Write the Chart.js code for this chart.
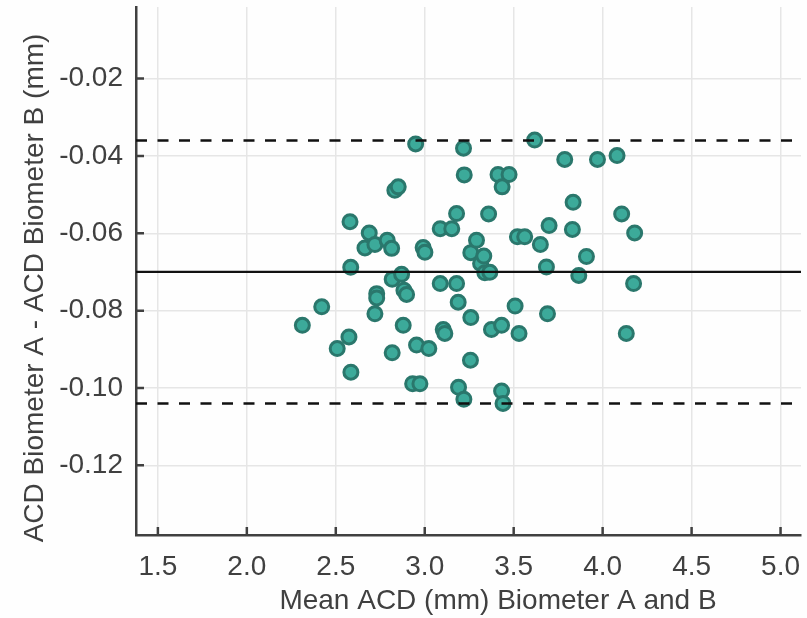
<!DOCTYPE html>
<html>
<head>
<meta charset="utf-8">
<script src="https://cdn.jsdelivr.net/npm/chart.js@4/dist/chart.umd.min.js"></script>
<style>
  html, body { margin: 0; padding: 0; background: #fefefe; }
  #wrap { width: 807px; height: 618px; }
</style>
</head>
<body>
<div id="wrap"><canvas id="c" width="807" height="618"></canvas></div>
<script>
// ---- data ----
const meanACD = [2.312, 2.421, 2.508, 2.574, 2.580, 2.584, 2.585, 2.664, 2.688, 2.720,
  2.789, 2.814, 2.730, 2.730, 2.720, 2.817, 2.870, 2.883, 2.898, 2.879,
  2.817, 2.832, 2.851, 2.932, 2.973, 2.954, 2.949, 2.991, 3.001, 3.023,
  3.087, 3.152, 3.087, 3.104, 3.113, 3.179, 3.179, 3.188, 3.190, 3.220,
  3.218, 3.222, 3.259, 3.259, 3.257, 3.291, 3.314, 3.332, 3.338, 3.366,
  3.359, 3.375, 3.432, 3.412, 3.474, 3.435, 3.432, 3.440, 3.508, 3.530,
  3.521, 3.562, 3.618, 3.650, 3.684, 3.690, 3.699, 3.787, 3.834, 3.830,
  3.866, 3.909, 3.971, 4.081, 4.107, 4.133, 4.174, 4.180];
const diffACD = [-0.0838, -0.0790, -0.0898, -0.0868, -0.0570, -0.0688, -0.0959, -0.0638, -0.0599, -0.0629,
  -0.0618, -0.0639, -0.0756, -0.0767, -0.0808, -0.0719, -0.0706, -0.0747, -0.0758, -0.0838,
  -0.0909, -0.0489, -0.0480, -0.0989, -0.0989, -0.0889, -0.0369, -0.0637, -0.0649, -0.0898,
  -0.0588, -0.0588, -0.0730, -0.0849, -0.0859, -0.0549, -0.0730, -0.0778, -0.0998, -0.1029,
  -0.0380, -0.0449, -0.0650, -0.0818, -0.0928, -0.0618, -0.0678, -0.0659, -0.0702, -0.0701,
  -0.0550, -0.0849, -0.0838, -0.0448, -0.0448, -0.0480, -0.1008, -0.1040, -0.0788, -0.0859,
  -0.0609, -0.0609, -0.0359, -0.0629, -0.0687, -0.0808, -0.0580, -0.0409, -0.0520, -0.0590,
  -0.0709, -0.0660, -0.0409, -0.0399, -0.0550, -0.0859, -0.0730, -0.0599];
const meanDiff = -0.070;
const upperLoA = -0.036;
const lowerLoA = -0.104;
const xTicks = [1.5, 2.0, 2.5, 3.0, 3.5, 4.0, 4.5, 5.0];
const yTicks = [-0.02, -0.04, -0.06, -0.08, -0.10, -0.12];
const xRange = [1.377, 5.115];
const yRange = [-0.138, -0.0015];
const xTitle = 'Mean ACD (mm) Biometer A and B';
const yTitle = 'ACD Biometer A - ACD Biometer B (mm)';

const FONT = '"Liberation Sans", Arial, Helvetica, sans-serif';
const TXT = '#404040';
const AXIS = '#404040';

const points = meanACD.map((x, i) => ({ x: x, y: diffACD[i] }));
const hline = (v) => [{ x: xRange[0], y: v }, { x: xRange[1], y: v }];
const noPad = () => ({ left: 0, top: 0, right: 0, bottom: 0 });

const bgPlugin = {
  id: 'bg',
  beforeDraw(chart) {
    const ctx = chart.ctx;
    ctx.save();
    ctx.fillStyle = '#fefefe';
    ctx.fillRect(0, 0, chart.width, chart.height);
    ctx.restore();
  }
};

// inward tick marks and axis titles
const decoPlugin = {
  id: 'deco',
  afterDraw(chart) {
    const ctx = chart.ctx;
    const xs = chart.scales.x, ys = chart.scales.y;
    const a = chart.chartArea;
    ctx.save();
    ctx.strokeStyle = AXIS;
    ctx.lineWidth = 2.5;
    ctx.beginPath();
    yTicks.forEach(v => {
      const p = ys.getPixelForValue(v);
      ctx.moveTo(a.left, p); ctx.lineTo(a.left + 8, p);
    });
    xTicks.forEach(v => {
      const p = xs.getPixelForValue(v);
      ctx.moveTo(p, a.bottom); ctx.lineTo(p, a.bottom - 8);
    });
    ctx.stroke();

    ctx.fillStyle = TXT;
    ctx.font = '28px ' + FONT;
    ctx.textAlign = 'center';
    ctx.textBaseline = 'middle';
    ctx.fillText(xTitle, 498, 601);
    ctx.translate(35, 288);
    ctx.rotate(-Math.PI / 2);
    ctx.fillText(yTitle, 0, 0);
    ctx.restore();
  }
};

new Chart(document.getElementById('c'), {
  type: 'scatter',
  data: {
    datasets: [
      {
        label: 'Differences',
        data: points,
        pointRadius: 7,
        pointHoverRadius: 7,
        pointBackgroundColor: '#3caa9a',
        pointBorderColor: '#2a776c',
        pointBorderWidth: 3,
        order: 2
      },
      {
        type: 'line',
        label: 'Mean',
        data: hline(meanDiff),
        borderColor: '#111111',
        borderWidth: 2.2,
        pointRadius: 0,
        fill: false,
        order: 1
      },
      {
        type: 'line',
        label: 'Upper LoA',
        data: hline(upperLoA),
        borderColor: '#111111',
        borderWidth: 2.5,
        borderDash: [11, 10.5],
        pointRadius: 0,
        fill: false,
        order: 1
      },
      {
        type: 'line',
        label: 'Lower LoA',
        data: hline(lowerLoA),
        borderColor: '#111111',
        borderWidth: 2.5,
        borderDash: [11, 10.5],
        pointRadius: 0,
        fill: false,
        order: 1
      }
    ]
  },
  options: {
    responsive: false,
    animation: false,
    devicePixelRatio: 1,
    layout: { autoPadding: false, padding: { top: 7, right: 6, bottom: 0, left: 0 } },
    plugins: {
      legend: { display: false },
      tooltip: { enabled: false }
    },
    scales: {
      x: {
        type: 'linear',
        min: xRange[0],
        max: xRange[1],
        afterBuildTicks: s => { s.ticks = xTicks.map(v => ({ value: v })); },
        afterFit: s => { s.height = 83; s.paddingLeft = 0; s.paddingRight = 0; s.getPadding = noPad; },
        ticks: {
          padding: 15,
          color: TXT,
          font: { family: FONT, size: 28 },
          maxRotation: 0,
          autoSkip: false,
          callback: v => Number(v).toFixed(1)
        },
        grid: { color: '#e6e6e6', lineWidth: 1.5, drawTicks: false },
        border: { display: true, color: AXIS, width: 2.5 }
      },
      y: {
        type: 'linear',
        min: yRange[0],
        max: yRange[1],
        afterBuildTicks: s => { s.ticks = yTicks.map(v => ({ value: v })); },
        afterFit: s => { s.width = 136; s.paddingTop = 0; s.paddingBottom = 0; s.getPadding = noPad; },
        ticks: {
          padding: 13,
          color: TXT,
          font: { family: FONT, size: 28 },
          autoSkip: false,
          callback: v => Number(v).toFixed(2)
        },
        grid: { color: '#e6e6e6', lineWidth: 1.5, drawTicks: false },
        border: { display: true, color: AXIS, width: 2.5 }
      }
    }
  },
  plugins: [bgPlugin, decoPlugin]
});
</script>
</body>
</html>
